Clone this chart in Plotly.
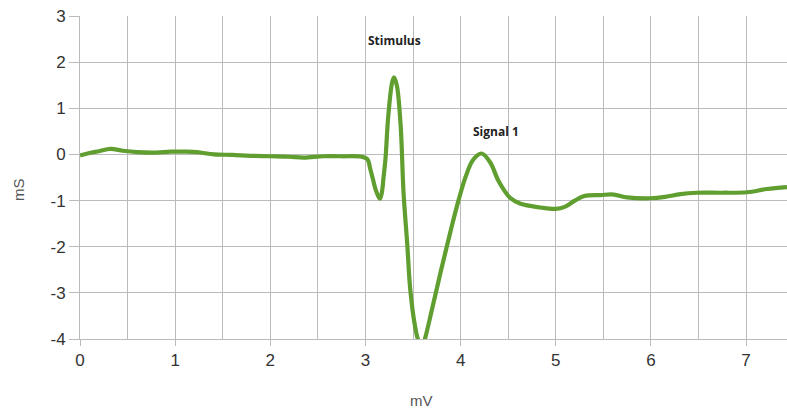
import plotly.graph_objects as go

# data
x_mv = [0, 0.1, 0.2, 0.32, 0.45, 0.6, 0.8, 0.95, 1.1, 1.23, 1.41, 1.6, 1.79, 2.0, 2.2, 2.35,
        2.56, 2.75, 2.96, 3.02, 3.05, 3.08, 3.11, 3.15, 3.17, 3.19, 3.21, 3.24, 3.28, 3.30,
        3.33, 3.37, 3.40, 3.44, 3.47, 3.52, 3.56, 3.60, 3.63, 3.70, 3.79, 3.86, 3.92, 3.98,
        4.05, 4.13, 4.22, 4.31, 4.40, 4.52, 4.63, 4.84, 5.0, 5.1, 5.2, 5.3, 5.47,
        5.61, 5.75, 5.99, 6.15, 6.31, 6.48, 6.75, 7.01, 7.22, 7.43]
y_ms = [-0.02, 0.03, 0.07, 0.12, 0.08, 0.05, 0.04, 0.06, 0.06, 0.05, 0.0, -0.01, -0.03, -0.04,
        -0.05, -0.07, -0.04, -0.04, -0.05, -0.10, -0.31, -0.55, -0.78, -0.96, -0.85, -0.5,
        -0.10, 0.84, 1.56, 1.67, 1.49, 0.62, -0.82, -1.97, -2.91, -3.71, -4.05, -4.15, -3.96,
        -3.35, -2.55, -1.95, -1.45, -0.98, -0.50, -0.12, 0.02, -0.17, -0.58, -0.94, -1.07,
        -1.15, -1.18, -1.13, -1.0, -0.90, -0.88, -0.87, -0.93, -0.95, -0.92, -0.86,
        -0.83, -0.83, -0.82, -0.75, -0.71]

labels = ["Stimulus", "Signal 1"]
label_x = [3.30, 4.37]
label_y = [2.46, 0.49]

x_ticks = [0, 1, 2, 3, 4, 5, 6, 7]
y_ticks = [-4, -3, -2, -1, 0, 1, 2, 3]
y_ticktext = ["-4", "-3", "-2", "-1", "0", "1", "2", "3"]

grid = "#bbbbbb"
tickfont = dict(family="Liberation Sans", size=17, color="#333")
fig = go.Figure()
fig.add_trace(go.Scatter(x=x_mv, y=y_ms, mode="lines",
                         line=dict(color="#5f9e2f", width=4.2, shape="spline", smoothing=1.0),
                         showlegend=False, hoverinfo="skip"))

for t, lx, ly in zip(labels, label_x, label_y):
    fig.add_annotation(x=lx, y=ly, text="<b>" + t + "</b>", showarrow=False,
                       font=dict(family="Open Sans", size=12, color="#222"))

fig.add_annotation(x=(421 - 80) / 707, y=-(400 - 339) / 323, xref="paper", yref="paper",
                   text="mV", showarrow=False, yanchor="middle", xanchor="center",
                   font=dict(family="Liberation Sans", size=15, color="#555"))
fig.add_annotation(x=-(80 - 18) / 707, y=(339 - 190) / 323, xref="paper", yref="paper",
                   text="mS", showarrow=False, textangle=-90, yanchor="middle",
                   xanchor="center",
                   font=dict(family="Liberation Sans", size=15, color="#555"))

fig.update_layout(
    width=787, height=412,
    margin=dict(l=80, r=0, t=16, b=73),
    paper_bgcolor="white", plot_bgcolor="white",
    xaxis=dict(range=[0, 7.43], tickvals=x_ticks, showgrid=True, gridcolor=grid, gridwidth=1,
               minor=dict(dtick=0.5, showgrid=True, gridcolor=grid, gridwidth=1),
               ticks="outside", ticklen=6, tickcolor=grid, zeroline=False,
               showline=True, linecolor=grid, linewidth=1, tickfont=tickfont),
    yaxis=dict(range=[-4, 3], tickvals=y_ticks, ticktext=y_ticktext, showgrid=True,
               gridcolor=grid, gridwidth=1,
               ticks="outside", ticklen=10, tickcolor=grid, zeroline=False,
               showline=True, linecolor=grid, linewidth=1, tickfont=tickfont),
)
fig.write_html("out.html")
